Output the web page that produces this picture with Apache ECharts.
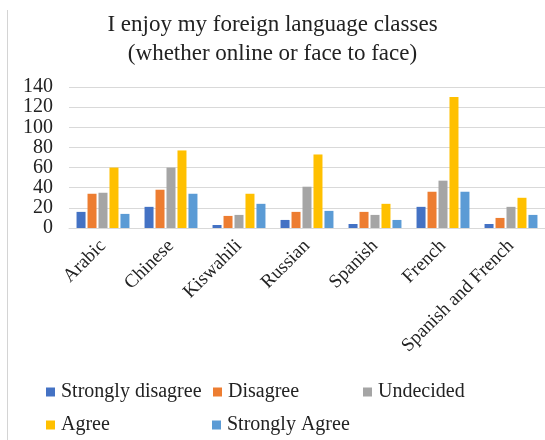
<!DOCTYPE html>
<html>
<head>
<meta charset="utf-8">
<script src="https://cdn.jsdelivr.net/npm/echarts@6/dist/echarts.min.js"></script>
<style>
  html, body { margin: 0; padding: 0; background: #fff; }
  #chart { width: 545px; height: 440px; }
</style>
</head>
<body>
<div id="chart"></div>
<script>
const categories = ["Arabic", "Chinese", "Kiswahili", "Russian", "Spanish", "French", "Spanish and French"];
const seriesNames = ["Strongly disagree", "Disagree", "Undecided", "Agree", "Strongly Agree"];
const stronglyDisagree = [16, 21, 3, 8, 4, 21, 4];
const disagree = [34, 38, 12, 16, 16, 36, 10];
const undecided = [35, 60, 13, 41, 13, 47, 21];
const agree = [60, 77, 34, 73, 24, 130, 30];
const stronglyAgree = [14, 34, 24, 17, 8, 36, 13];
const colors = ["#4472C4", "#ED7D31", "#A5A5A5", "#FFC000", "#5B9BD5"];

const serif = "'Liberation Serif', 'DejaVu Serif', serif";
const values = [stronglyDisagree, disagree, undecided, agree, stronglyAgree];

// legend positions mimic the Excel two-row layout
const legendPos = [[46, 382], [213, 382], [363, 382], [46, 415], [212, 415]];

const chart = echarts.init(document.getElementById("chart"));
chart.setOption({
  animation: false,
  color: colors,
  title: {
    text: "I enjoy my foreign language classes\n(whether online or face to face)",
    left: "center",
    top: 5,
    textStyle: { fontFamily: serif, fontSize: 23, fontWeight: "normal", color: "#222", lineHeight: 29 }
  },
  graphic: [{
    type: "line",
    shape: { x1: 7.5, y1: 10, x2: 7.5, y2: 440 },
    style: { stroke: "#d4d4d4", lineWidth: 1 }
  }],
  grid: { left: 69, right: 0, top: 87, bottom: 212 },
  xAxis: {
    type: "category",
    data: categories,
    axisTick: { show: false },
    axisLine: { lineStyle: { color: "#d9d9d9" } },
    axisLabel: { rotate: 45, interval: 0, fontFamily: serif, fontSize: 19, color: "#222", margin: 15 }
  },
  yAxis: {
    type: "value",
    min: 0,
    max: 140,
    interval: 20,
    axisLabel: { fontFamily: serif, fontSize: 20, color: "#222", margin: 16 },
    splitLine: { lineStyle: { color: "#d9d9d9" } }
  },
  legend: seriesNames.map((name, i) => ({
    data: [name],
    left: legendPos[i][0],
    top: legendPos[i][1],
    padding: 0,
    itemWidth: 9,
    itemHeight: 9,
    icon: "rect",
    textStyle: { fontFamily: serif, fontSize: 20, color: "#222", padding: [0, 0, 0, 1] }
  })),
  series: seriesNames.map((name, i) => ({
    name: name,
    type: "bar",
    data: values[i],
    barWidth: 9,
    barGap: "22%"
  }))
});
</script>
</body>
</html>
